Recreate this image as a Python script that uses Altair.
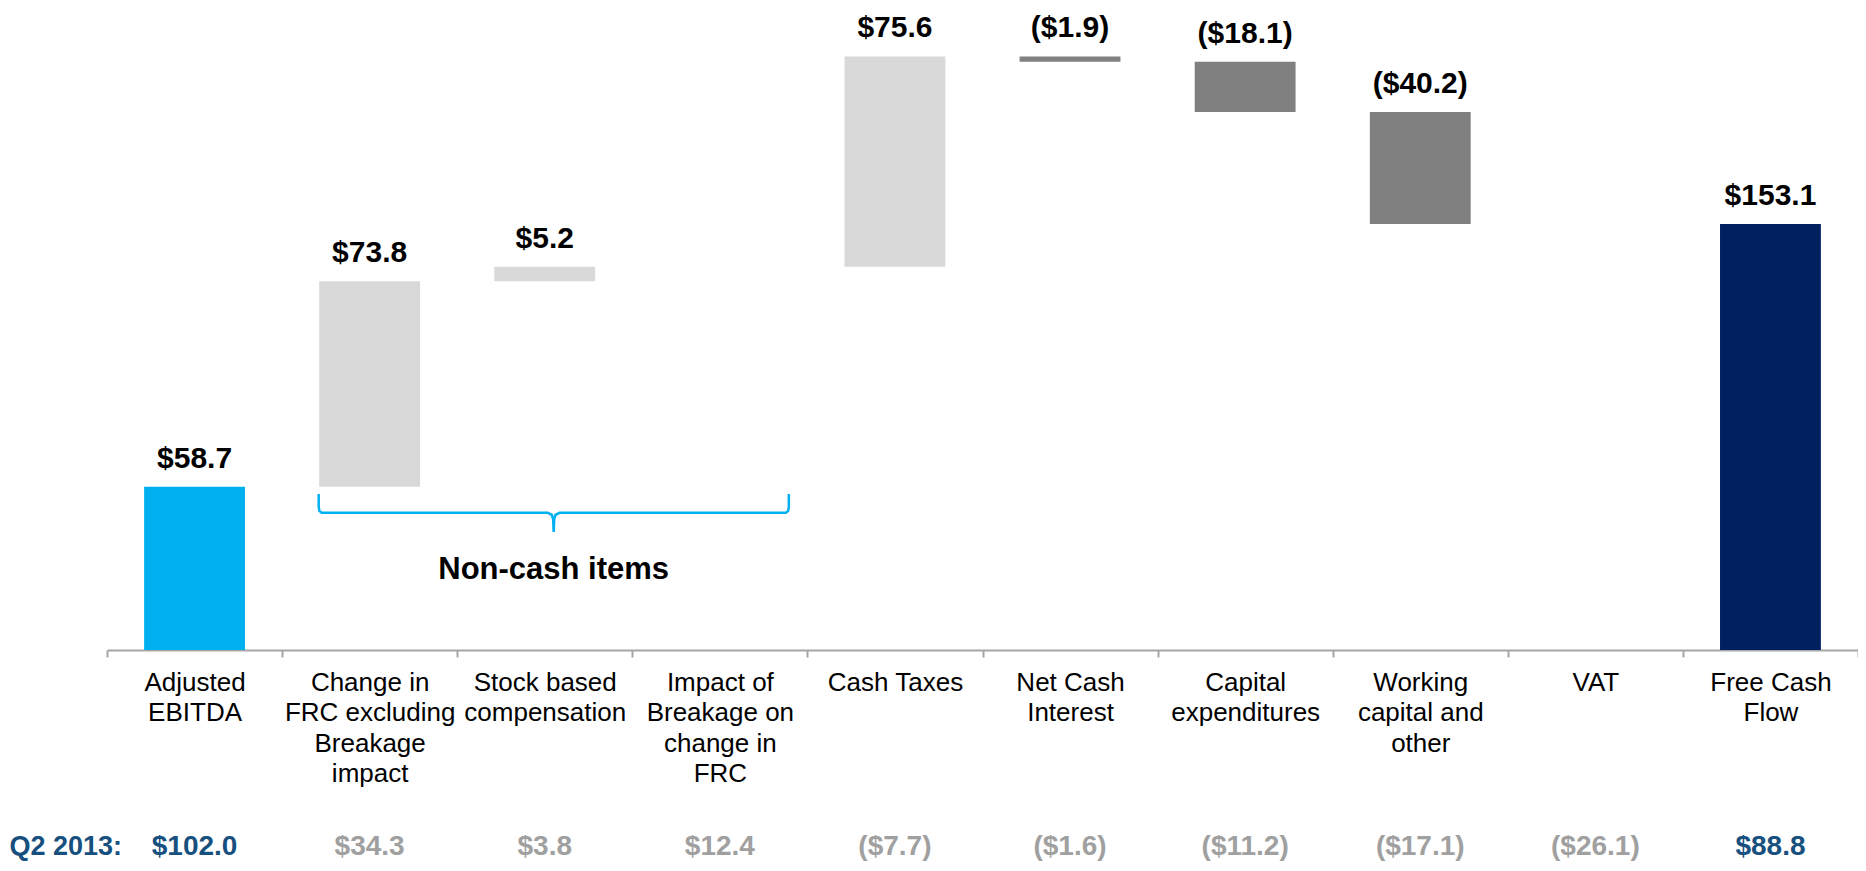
import altair as alt
import pandas as pd

# ---------------- data ----------------
categories = [
    "Adjusted\nEBITDA",
    "Change in\nFRC excluding\nBreakage\nimpact",
    "Stock based\ncompensation",
    "Impact of\nBreakage on\nchange in\nFRC",
    "Cash Taxes",
    "Net Cash\nInterest",
    "Capital\nexpenditures",
    "Working\ncapital and\nother",
    "VAT",
    "Free Cash\nFlow",
]
step_values = [58.7, 73.8, 5.2, None, 75.6, -1.9, -18.1, -40.2, None, 153.1]
step_kinds = ["start", "up", "up", "none", "up", "down", "down", "down", "none", "total"]

q2_label = "Q2 2013:"
q2_values = [102.0, 34.3, 3.8, 12.4, -7.7, -1.6, -11.2, -17.1, -26.1, 88.8]
q2_kinds = ["key", "other", "other", "other", "other", "other", "other", "other", "other", "key"]

# bracket annotation (x in category units, y in value units)
bracket_x = [1.209, 1.209, 1.213, 1.226, 2.517, 2.540, 2.548, 2.551, 2.554, 2.562, 2.585, 3.877, 3.890, 3.894, 3.894]
bracket_y = [56.1, 51.5, 50.0, 49.3, 49.3, 48.6, 47.0, 42.4, 47.0, 48.6, 49.3, 49.3, 50.0, 51.5, 56.1]
note_text = "Non-cash items"
note_x = [2.551]
note_y = [28.75]

# ---------------- styles ----------------
BAR_COLORS = {"start": "#00B0F0", "up": "#D9D9D9", "down": "#808080", "total": "#002060"}
Q2_COLORS = {"key": "#17507E", "other": "#A0A0A0"}


def fmt(v):
    return f"${v:.1f}" if v >= 0 else f"(${-v:.1f})"


# ---------------- tables ----------------
rows = []
running = 0.0
for cat, v, k in zip(categories, step_values, step_kinds):
    if k == "none" or v is None:
        continue
    if k in ("start", "total"):
        s, e = 0.0, v
        running = v
    else:
        s, e = running, running + v
        running = e
    rows.append({"cat": cat, "start": s, "end": e, "top": max(s, e), "kind": k,
                 "label": fmt(v), "fill": BAR_COLORS[k]})
bars_df = pd.DataFrame(rows)

q2_df = pd.DataFrame({"cat": categories, "label": [fmt(v) for v in q2_values],
                      "fill": [Q2_COLORS[k] for k in q2_kinds]})
bracket_df = pd.DataFrame({"x": bracket_x, "y": bracket_y, "o": list(range(len(bracket_x)))})
note_df = pd.DataFrame({"x": note_x, "y": note_y, "t": [note_text]})
q2_head_df = pd.DataFrame({"t": [q2_label]})

FONT = "Liberation Sans"
W, H = 1751, 640
YMAX = 230
Q2_ROW_Y = 837

xband = alt.X(
    "cat:N",
    sort=categories,
    scale=alt.Scale(paddingInner=0, paddingOuter=0),
    axis=alt.Axis(
        title=None,
        labelAngle=0,
        labelExpr="isValid(datum.value) ? split(datum.value, '\\n') : ''",
        labelFont=FONT,
        labelFontSize=26,
        labelColor="#000000",
        labelLineHeight=30.5,
        labelPadding=12,
        labelLimit=400,
        labelOverlap=False,
        domainColor="#A6A6A6",
        domainWidth=2,
        tickColor="#A6A6A6",
        tickWidth=2,
        tickSize=7,
        tickBand="extent",
        grid=False,
    ),
)
yscale = alt.Scale(domain=[0, YMAX], nice=False, zero=True)

bars = alt.Chart(bars_df).mark_bar(width=alt.RelativeBandSize(0.576)).encode(
    x=xband,
    y=alt.Y("start:Q", scale=yscale, axis=None),
    y2="end:Q",
    color=alt.Color("fill:N", scale=None, legend=None),
)

value_labels = alt.Chart(bars_df).mark_text(
    font=FONT, fontSize=30, fontWeight="bold", color="#000000", baseline="middle", dy=-28
).encode(
    x=alt.X("cat:N", sort=categories),
    y=alt.Y("top:Q", scale=yscale, axis=None),
    text="label:N",
)

q2_row = alt.Chart(q2_df).mark_text(
    font=FONT, fontSize=28, fontWeight="bold", baseline="middle"
).encode(
    x=alt.X("cat:N", sort=categories),
    y=alt.value(Q2_ROW_Y),
    text="label:N",
    color=alt.Color("fill:N", scale=None, legend=None),
)

q2_head = alt.Chart(q2_head_df).mark_text(
    font=FONT, fontSize=27, fontWeight="bold", baseline="middle", align="right", color=Q2_COLORS["key"]
).encode(
    x=alt.value(15),
    y=alt.value(Q2_ROW_Y),
    text="t:N",
)

xq = alt.X("x:Q", scale=alt.Scale(domain=[0, 10], nice=False, zero=False), axis=None)

bracket = alt.Chart(bracket_df).mark_line(color="#00B0F0", strokeWidth=2.5).encode(
    x=xq,
    y=alt.Y("y:Q", scale=yscale, axis=None),
    order="o:Q",
)

note = alt.Chart(note_df).mark_text(
    font=FONT, fontSize=31, fontWeight="bold", color="#000000", baseline="middle", align="center"
).encode(
    x=xq,
    y=alt.Y("y:Q", scale=yscale, axis=None),
    text="t:N",
)

band_layer = alt.layer(bars, value_labels, q2_row, q2_head)
quant_layer = alt.layer(bracket, note)

chart = (
    alt.layer(band_layer, quant_layer)
    .resolve_scale(x="independent")
    .properties(
        width=W,
        height=H,
        autosize=alt.AutoSizeParams(type="none"),
        padding={"left": 99, "top": 2, "right": 0, "bottom": 213},
    )
    .configure(background="#FFFFFF")
    .configure_view(strokeWidth=0, stroke="transparent")
)

chart.save("out.html", embed_options={"renderer": "svg", "actions": False})
